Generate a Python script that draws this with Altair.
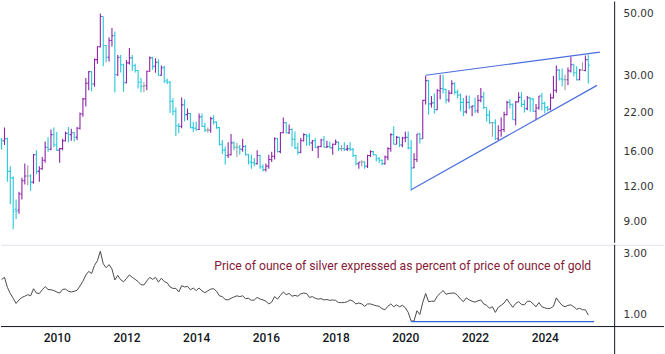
import altair as alt
import pandas as pd

# Monthly silver bars, June 2008 .. April 2025 (USD per ounce)
first_month = "2008-06"
opens = [
    17.7, 17.5, 17.8, 13.6, 12.9, 9.95, 9.9,
    11.3, 12.6, 13.1, 13.1, 12.45, 15.6, 13.6, 13.9, 14.9, 16.6, 16.3, 18.4,
    16.9, 16.2, 16.4, 17.5, 18.6, 18.4, 18.7, 18.0, 19.4, 21.8, 24.7, 28.1,
    30.9, 27.9, 34.1, 37.9, 48.6, 38.3, 34.8, 39.9, 41.5, 30.1, 34.8, 32.7,
    28.2, 33.2, 34.6, 32.5, 31.2, 28.3, 27.4, 27.5, 31.0, 34.6, 32.3, 33.4,
    30.0, 31.9, 28.6, 28.3, 24.2, 22.3, 19.8, 19.7, 23.5, 21.7, 21.9, 19.5,
    19.4, 19.2, 21.3, 19.7, 19.1, 19.1, 21.0, 20.4, 19.5, 17.0, 16.2, 15.5,
    15.6, 17.2, 16.6, 16.6, 16.3, 16.7, 15.6, 14.7, 14.6, 14.5, 15.5, 14.1,
    13.8, 14.2, 15.0, 15.4, 17.8, 16.0, 18.7, 20.3, 18.7, 19.2, 17.7, 16.5,
    15.9, 17.5, 18.4, 18.2, 17.2, 17.5, 16.6, 16.7, 17.6, 16.6, 16.7, 16.5,
    17.0, 17.3, 16.4, 16.4, 16.3, 16.4, 16.3, 15.5, 14.5, 14.7, 14.7, 14.2,
    15.5, 16.0, 15.6, 15.1, 14.9, 14.5, 15.3, 16.4, 18.4, 17.0, 18.0, 16.9,
    17.9, 18.0, 16.5, 14.0, 15.0, 18.5, 17.8, 24.4, 28.7, 23.7, 23.9, 22.6,
    26.4, 26.9, 26.7, 24.5, 25.9, 28.0, 26.1, 25.5, 24.0, 22.2, 24.0, 23.1,
    23.3, 22.4, 24.4, 25.1, 23.0, 21.6, 20.3, 20.3, 17.8, 19.0, 19.2, 21.7,
    24.0, 23.6, 20.8, 24.1, 25.0, 23.6, 22.8, 24.9, 24.7, 22.3, 22.9, 25.3,
    23.8, 23.0, 22.7, 24.9, 26.5, 31.3, 29.1, 28.9, 28.9, 31.1, 32.7, 30.6,
    28.9, 31.3, 31.2, 34.1,
]
highs = [
    17.9, 19.5, 17.95, 14.2, 13.05, 10.8, 11.5,
    12.9, 14.5, 14.3, 13.3, 15.7, 16.2, 14.2, 15.3, 17.4, 18.0, 19.2, 19.5,
    18.8, 16.5, 17.8, 18.9, 19.6, 19.3, 18.8, 19.6, 22.1, 24.9, 29.3, 31.0,
    31.0, 34.4, 38.1, 49.8, 48.6, 38.5, 40.9, 44.2, 43.0, 35.4, 35.4, 33.0,
    34.0, 37.5, 35.4, 33.0, 31.3, 29.3, 28.3, 31.1, 35.0, 34.9, 34.5, 34.2,
    32.5, 32.4, 29.2, 28.6, 24.8, 23.0, 20.2, 25.0, 24.6, 22.8, 22.0, 20.4,
    20.5, 21.9, 21.9, 20.3, 19.5, 21.3, 21.6, 20.5, 19.6, 17.6, 16.7, 17.3,
    18.5, 17.4, 17.2, 16.9, 17.8, 16.9, 15.7, 15.6, 15.2, 16.2, 15.6, 14.4,
    14.5, 15.6, 16.0, 18.0, 17.9, 18.8, 21.2, 20.4, 20.0, 19.4, 18.9, 17.2,
    17.9, 18.6, 18.5, 18.6, 17.6, 17.9, 16.8, 17.8, 18.2, 17.5, 17.4, 17.1,
    17.7, 17.4, 16.9, 17.3, 16.9, 17.3, 16.5, 15.6, 14.7, 14.9, 14.8, 15.6,
    16.2, 16.1, 15.6, 15.3, 15.0, 15.5, 16.6, 18.6, 19.7, 18.2, 18.1, 18.1,
    18.9, 18.9, 17.6, 15.8, 18.5, 18.7, 24.4, 29.9, 28.9, 25.3, 25.8, 26.8,
    30.1, 30.1, 26.8, 26.5, 28.8, 28.3, 26.6, 25.8, 24.9, 25.4, 25.4, 23.4,
    25.0, 25.5, 27.0, 26.2, 23.0, 22.5, 20.4, 20.9, 19.9, 21.2, 22.2, 24.3,
    24.6, 23.8, 24.2, 26.1, 26.1, 24.5, 25.3, 25.0, 24.8, 23.7, 25.3, 25.9,
    24.1, 23.3, 25.8, 29.8, 32.5, 31.6, 31.7, 30.1, 32.0, 34.9, 33.0, 32.3,
    31.6, 33.4, 35.3, 35.5,
]
lows = [
    16.3, 16.9, 12.5, 10.4, 8.45, 9.2, 9.6,
    10.8, 12.2, 12.1, 11.6, 12.3, 13.3, 12.5, 13.8, 14.6, 16.0, 16.2, 16.6,
    16.1, 14.6, 16.2, 17.4, 17.3, 17.5, 17.4, 17.6, 19.2, 21.3, 23.2, 26.5,
    26.3, 27.3, 33.0, 37.7, 32.3, 33.4, 33.6, 38.0, 26.1, 29.8, 30.7, 26.2,
    28.1, 32.8, 31.1, 30.7, 26.9, 26.1, 26.1, 26.5, 30.9, 31.4, 30.6, 29.9,
    29.9, 28.2, 27.9, 22.0, 21.6, 18.2, 18.6, 19.4, 20.5, 20.7, 19.4, 18.8,
    19.0, 19.1, 19.6, 18.8, 18.7, 18.7, 20.0, 19.3, 16.8, 15.7, 14.4, 15.2,
    15.5, 16.2, 15.3, 15.6, 16.0, 15.5, 14.4, 13.9, 14.2, 14.4, 13.9, 13.6,
    13.6, 13.9, 14.7, 15.0, 15.9, 15.8, 18.6, 18.6, 18.5, 16.7, 16.4, 15.6,
    15.8, 17.4, 16.8, 16.8, 16.1, 16.5, 15.2, 16.6, 16.6, 16.5, 16.5, 15.6,
    16.9, 16.1, 16.1, 16.1, 16.1, 16.1, 15.3, 14.3, 13.9, 14.2, 13.9, 14.0,
    15.3, 15.5, 14.8, 14.6, 14.3, 14.4, 14.9, 16.0, 17.0, 17.0, 16.6, 16.6,
    17.3, 16.3, 11.6, 14.0, 14.7, 17.1, 17.8, 23.6, 21.7, 23.0, 21.9, 22.6,
    24.6, 25.8, 23.8, 24.0, 25.7, 25.6, 24.8, 22.3, 21.4, 21.9, 22.7, 21.4,
    22.0, 22.0, 24.0, 22.7, 20.5, 20.1, 18.1, 17.6, 17.6, 18.1, 18.8, 21.6,
    22.8, 20.8, 19.9, 24.0, 23.1, 22.1, 22.5, 22.2, 22.2, 20.7, 22.6, 22.5,
    22.0, 22.3, 22.5, 24.8, 26.0, 28.7, 27.4, 26.5, 27.7, 30.7, 29.7, 28.7,
    28.8, 31.2, 31.0, 28.0,
]
closes = [
    17.5, 17.8, 13.6, 12.9, 9.8, 9.8, 11.3,
    12.6, 13.1, 13.1, 12.45, 15.6, 13.6, 13.9, 14.9, 16.6, 16.3, 18.4, 16.9,
    16.2, 16.4, 17.5, 18.6, 18.4, 18.7, 18.0, 19.4, 21.8, 24.7, 28.1, 30.9,
    27.9, 34.1, 37.9, 48.6, 38.3, 34.8, 39.9, 41.5, 30.1, 34.8, 32.7, 28.2,
    33.2, 34.6, 32.5, 31.2, 28.3, 27.4, 27.5, 31.0, 34.6, 32.3, 33.4, 30.0,
    31.9, 28.6, 28.3, 24.2, 22.3, 19.8, 19.7, 23.5, 21.7, 21.9, 19.5, 19.4,
    19.2, 21.3, 19.7, 19.1, 19.1, 21.0, 20.4, 19.5, 17.0, 16.2, 15.5, 15.6,
    17.2, 16.6, 16.6, 16.3, 16.7, 15.6, 14.7, 14.6, 14.5, 15.5, 14.1, 13.8,
    14.2, 15.0, 15.4, 17.8, 16.0, 18.7, 20.3, 18.7, 19.2, 17.7, 16.5, 15.9,
    17.5, 18.4, 18.2, 17.2, 17.5, 16.6, 16.7, 17.6, 16.6, 16.7, 16.5, 17.0,
    17.3, 16.4, 16.4, 16.3, 16.4, 16.3, 15.5, 14.5, 14.7, 14.7, 14.2, 15.5,
    16.0, 15.6, 15.1, 14.9, 14.5, 15.3, 16.4, 18.4, 17.0, 18.0, 16.9, 17.9,
    18.0, 16.5, 14.0, 15.0, 18.5, 17.8, 24.4, 28.7, 23.7, 23.9, 22.6, 26.4,
    26.9, 26.7, 24.5, 25.9, 28.0, 26.1, 25.5, 24.0, 22.2, 24.0, 23.1, 23.3,
    22.4, 24.4, 25.1, 23.0, 21.6, 20.3, 20.3, 17.8, 19.0, 19.2, 21.7, 24.0,
    23.6, 20.8, 24.1, 25.0, 23.6, 22.8, 24.9, 24.7, 22.3, 22.9, 25.3, 23.8,
    23.0, 22.7, 24.9, 26.5, 31.3, 29.1, 28.9, 28.9, 31.1, 32.7, 30.6, 28.9,
    31.3, 31.2, 34.1, 32.6,
]
# Silver price as percent of gold price (month end)
ratio = [
    1.88, 1.95, 1.63, 1.46, 1.34, 1.22, 1.30,
    1.36, 1.39, 1.43, 1.40, 1.59, 1.47, 1.46, 1.56, 1.65, 1.57, 1.56, 1.54,
    1.50, 1.47, 1.57, 1.58, 1.52, 1.50, 1.52, 1.55, 1.67, 1.82, 2.03, 2.17,
    2.09, 2.42, 2.63, 3.12, 2.49, 2.32, 2.45, 2.27, 1.86, 2.02, 1.87, 1.80,
    1.91, 2.04, 1.95, 1.88, 1.81, 1.71, 1.70, 1.83, 1.95, 1.88, 1.95, 1.79,
    1.92, 1.81, 1.77, 1.64, 1.60, 1.60, 1.50, 1.68, 1.64, 1.66, 1.56, 1.61,
    1.54, 1.61, 1.53, 1.48, 1.53, 1.58, 1.59, 1.52, 1.40, 1.38, 1.31, 1.30,
    1.34, 1.37, 1.40, 1.38, 1.40, 1.33, 1.34, 1.29, 1.30, 1.36, 1.32, 1.30,
    1.27, 1.21, 1.25, 1.38, 1.32, 1.41, 1.50, 1.43, 1.46, 1.39, 1.41, 1.39,
    1.45, 1.47, 1.46, 1.36, 1.38, 1.34, 1.32, 1.33, 1.30, 1.31, 1.29, 1.30,
    1.29, 1.24, 1.24, 1.24, 1.26, 1.30, 1.27, 1.21, 1.23, 1.21, 1.16, 1.21,
    1.21, 1.19, 1.17, 1.16, 1.11, 1.09, 1.16, 1.21, 1.15, 1.19, 1.15, 1.18,
    1.13, 1.04, 0.89, 0.89, 1.07, 1.00, 1.24, 1.46, 1.26, 1.27, 1.27, 1.39,
    1.46, 1.54, 1.44, 1.46, 1.47, 1.47, 1.41, 1.32, 1.26, 1.35, 1.30, 1.27,
    1.25, 1.28, 1.30, 1.21, 1.18, 1.12, 1.15, 1.04, 1.14, 1.18, 1.23, 1.32,
    1.22, 1.14, 1.22, 1.26, 1.20, 1.19, 1.27, 1.27, 1.21, 1.15, 1.24, 1.15,
    1.13, 1.11, 1.12, 1.16, 1.35, 1.25, 1.18, 1.15, 1.18, 1.19, 1.15, 1.10,
    1.12, 1.09, 1.09, 0.99,
]

# Hand-drawn trend lines (month, value)
upper_months = ["2020-08", "2025-08"]
upper_vals = [30.0, 36.3]
lower_months = ["2020-03", "2025-07"]
lower_vals = [11.7, 27.6]
floor_months = ["2020-03", "2025-06"]
floor_vals = [0.88, 0.88]

year_ticks = [2010, 2012, 2014, 2016, 2018, 2020, 2022, 2024]
price_ticks = [9, 12, 16, 22, 30, 50]
ratio_ticks = [1, 3]
note = "Price of ounce of silver expressed as percent of price of ounce of gold"


def month_index(p):
    p = pd.Period(p, freq="M")
    return (p.year - 2010) * 12 + (p.month - 1)


months = pd.period_range(first_month, periods=len(closes), freq="M")
df = pd.DataFrame({
    "i": [month_index(m) for m in months],
    "open": opens, "high": highs, "low": lows, "close": closes, "ratio": ratio,
})
chg = (df["close"] - df["open"]) / df["open"]
df["dir"] = ["flat" if abs(c) < 0.004 else ("up" if c > 0 else "down") for c in chg]

upper_df = pd.DataFrame({"i": [month_index(m) for m in upper_months], "v": upper_vals})
lower_df = pd.DataFrame({"i": [month_index(m) for m in lower_months], "v": lower_vals})
floor_df = pd.DataFrame({"i": [month_index(m) for m in floor_months], "v": floor_vals})
one = pd.DataFrame({"a": [0]})

W = 615
H_TOP = 242
H_BOT = 82
x_scale = alt.Scale(domain=[-19.2, 191.9], nice=False, zero=False)
y_top = alt.Scale(type="log", domain=[7.56, 55.0], nice=False)
y_bot = alt.Scale(type="log", domain=[0.806, 3.5], nice=False)
cscale = alt.Scale(domain=["up", "down", "flat"], range=["#8e24aa", "#26c6da", "#9e9e9e"])

LABEL_FONT = "DejaVu Sans"
axis_y_common = dict(orient="right", format=".2f", domain=False, ticks=False, tickSize=0,
                     grid=False, labelPadding=9, labelFont=LABEL_FONT, labelFontSize=10.5,
                     labelColor="#333333", title=None)

base = alt.Chart(df)
hl = base.mark_rule(strokeWidth=1.1, clip=True).encode(
    x=alt.X("i:Q", scale=x_scale, axis=None),
    y=alt.Y("low:Q", scale=y_top, axis=alt.Axis(values=price_ticks, **axis_y_common)),
    y2="high:Q",
    color=alt.Color("dir:N", scale=cscale, legend=None),
)
op = base.mark_rule(strokeWidth=1.1, x2Offset=-1.4, clip=True).encode(
    x=alt.X("i:Q", scale=x_scale), x2="i:Q",
    y=alt.Y("open:Q", scale=y_top),
    color=alt.Color("dir:N", scale=cscale, legend=None),
)
cl = base.mark_rule(strokeWidth=1.1, x2Offset=1.4, clip=True).encode(
    x=alt.X("i:Q", scale=x_scale), x2="i:Q",
    y=alt.Y("close:Q", scale=y_top),
    color=alt.Color("dir:N", scale=cscale, legend=None),
)
up_line = alt.Chart(upper_df).mark_line(color="#4a6fdc", strokeWidth=1.2).encode(
    x=alt.X("i:Q", scale=x_scale), y=alt.Y("v:Q", scale=y_top))
lo_line = alt.Chart(lower_df).mark_line(color="#4a6fdc", strokeWidth=1.2).encode(
    x=alt.X("i:Q", scale=x_scale), y=alt.Y("v:Q", scale=y_top))
vline_top = alt.Chart(one).mark_rule(color="#131722", strokeWidth=1).encode(
    x=alt.value(W + 0.5), y=alt.value(0), y2=alt.value(H_TOP))

top = alt.layer(hl, op, cl, up_line, lo_line, vline_top).properties(width=W, height=H_TOP)

ratio_line = alt.Chart(df).mark_line(color="#4a4a4a", strokeWidth=1, clip=True).encode(
    x=alt.X("i:Q", scale=x_scale, axis=alt.Axis(
        values=[(y - 2010) * 12 for y in year_ticks],
        labelExpr="'' + (2010 + datum.value / 12)",
        domain=False, ticks=False, tickSize=0, grid=False, labelPadding=6,
        labelFont="Roboto", labelFontSize=12, labelFontWeight=500,
        labelColor="#131722", title=None)),
    y=alt.Y("ratio:Q", scale=y_bot, axis=alt.Axis(values=ratio_ticks, **axis_y_common)),
)
floor_line = alt.Chart(floor_df).mark_line(color="#3366d6", strokeWidth=1.2).encode(
    x=alt.X("i:Q", scale=x_scale), y=alt.Y("v:Q", scale=y_bot))
note_text = alt.Chart(one).mark_text(
    text=note, align="right", baseline="middle", font="Roboto", fontSize=12.2,
    color="#861a38").encode(x=alt.value(592), y=alt.value(21))
sep = alt.Chart(one).mark_rule(color="#e0e3eb", strokeWidth=1).encode(
    x=alt.value(0), x2=alt.value(665), y=alt.value(0.5))
xaxis_line = alt.Chart(one).mark_rule(color="#131722", strokeWidth=1).encode(
    x=alt.value(0), x2=alt.value(665), y=alt.value(H_BOT))
vline_bot = alt.Chart(one).mark_rule(color="#131722", strokeWidth=1).encode(
    x=alt.value(W + 0.5), y=alt.value(0), y2=alt.value(354 - H_TOP))

bottom = alt.layer(sep, ratio_line, floor_line, note_text, xaxis_line, vline_bot).properties(
    width=W, height=H_BOT)

chart = alt.vconcat(top, bottom, spacing=0).properties(
    padding=0, background="white"
).configure_view(stroke=None)

chart.save("out.html", embed_options={"renderer": "svg", "actions": False})
